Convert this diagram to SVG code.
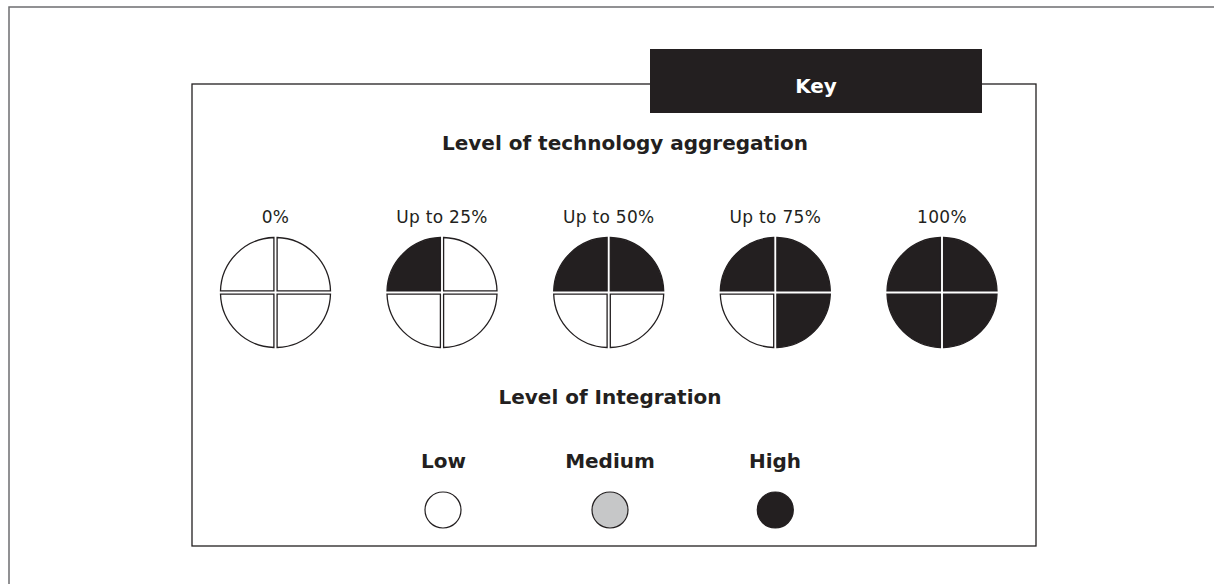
<svg xmlns="http://www.w3.org/2000/svg" xmlns:xlink="http://www.w3.org/1999/xlink" width="1214" height="584" viewBox="0 0 1214 584">
  <style>
    .frame { fill: none; stroke: #6d6e70; stroke-width: 1.5; }
    .box { fill: #ffffff; stroke: #231f20; stroke-width: 1.3; }
    .q { stroke: #231f20; stroke-width: 1.3; stroke-linejoin: miter; }
    .e { fill: #ffffff; }
    .f { fill: #231f20; }
    .title { font-family: "DejaVu Sans", "Liberation Sans", sans-serif; font-weight: bold; font-size: 20px; fill: #231f20; text-anchor: middle; }
    .lbl { font-family: "DejaVu Sans", "Liberation Sans", sans-serif; font-size: 17px; letter-spacing: 0.3px; fill: #231f20; text-anchor: middle; }
    .key { font-family: "DejaVu Sans", "Liberation Sans", sans-serif; font-weight: bold; font-size: 20px; fill: #ffffff; text-anchor: middle; }
  </style>
  <defs>
    <path id="tl" d="M-1.6,-1.6 H-55 A55,55 0 0 1 -1.6,-55 Z"/>
    <path id="tr" d="M1.6,-1.6 V-55 A55,55 0 0 1 55,-1.6 Z"/>
    <path id="br" d="M1.6,1.6 H55 A55,55 0 0 1 1.6,55 Z"/>
    <path id="bl" d="M-1.6,1.6 V55 A55,55 0 0 1 -55,1.6 Z"/>
  </defs>
  <rect width="1214" height="584" fill="#ffffff"/>
  <rect class="frame" x="9" y="7" width="1300" height="700"/>
  <g id="key-box">
    <rect class="box" x="192" y="84" width="844" height="462"/>
  </g>
  <g id="key-tab">
    <rect x="650" y="49" width="332" height="64" fill="#231f20"/>
    <text class="key" x="816" y="93">Key</text>
  </g>
  <g id="title-aggregation">
    <text class="title" x="625" y="150">Level of technology aggregation</text>
  </g>
  <g id="agg-0">
    <text class="lbl" x="275.5" y="223">0%</text>
    <g transform="translate(275.5,292.5)">
      <use xlink:href="#tl" class="q e"/><use xlink:href="#tr" class="q e"/><use xlink:href="#bl" class="q e"/><use xlink:href="#br" class="q e"/>
    </g>
  </g>
  <g id="agg-25">
    <text class="lbl" x="442" y="223">Up to 25%</text>
    <g transform="translate(442,292.5)">
      <use xlink:href="#tl" class="q f"/><use xlink:href="#tr" class="q e"/><use xlink:href="#bl" class="q e"/><use xlink:href="#br" class="q e"/>
    </g>
  </g>
  <g id="agg-50">
    <text class="lbl" x="608.7" y="223">Up to 50%</text>
    <g transform="translate(608.7,292.5)">
      <use xlink:href="#tl" class="q f"/><use xlink:href="#tr" class="q f"/><use xlink:href="#bl" class="q e"/><use xlink:href="#br" class="q e"/>
    </g>
  </g>
  <g id="agg-75">
    <text class="lbl" x="775.3" y="223">Up to 75%</text>
    <g transform="translate(775.3,292.5)">
      <use xlink:href="#tl" class="q f"/><use xlink:href="#tr" class="q f"/><use xlink:href="#bl" class="q e"/><use xlink:href="#br" class="q f"/>
    </g>
  </g>
  <g id="agg-100">
    <text class="lbl" x="942" y="223">100%</text>
    <g transform="translate(942,292.5)">
      <use xlink:href="#tl" class="q f"/><use xlink:href="#tr" class="q f"/><use xlink:href="#bl" class="q f"/><use xlink:href="#br" class="q f"/>
    </g>
  </g>
  <g id="title-integration">
    <text class="title" x="610" y="404">Level of Integration</text>
  </g>
  <g id="int-low">
    <text class="title" x="443.5" y="468">Low</text>
    <circle cx="443" cy="510" r="18" fill="#ffffff" stroke="#231f20" stroke-width="1.2"/>
  </g>
  <g id="int-medium">
    <text class="title" x="610" y="468">Medium</text>
    <circle cx="610" cy="510" r="18" fill="#c6c7c8" stroke="#231f20" stroke-width="1.2"/>
  </g>
  <g id="int-high">
    <text class="title" x="775" y="468">High</text>
    <circle cx="775.3" cy="510" r="18" fill="#231f20" stroke="#231f20" stroke-width="1.2"/>
  </g>
</svg>
